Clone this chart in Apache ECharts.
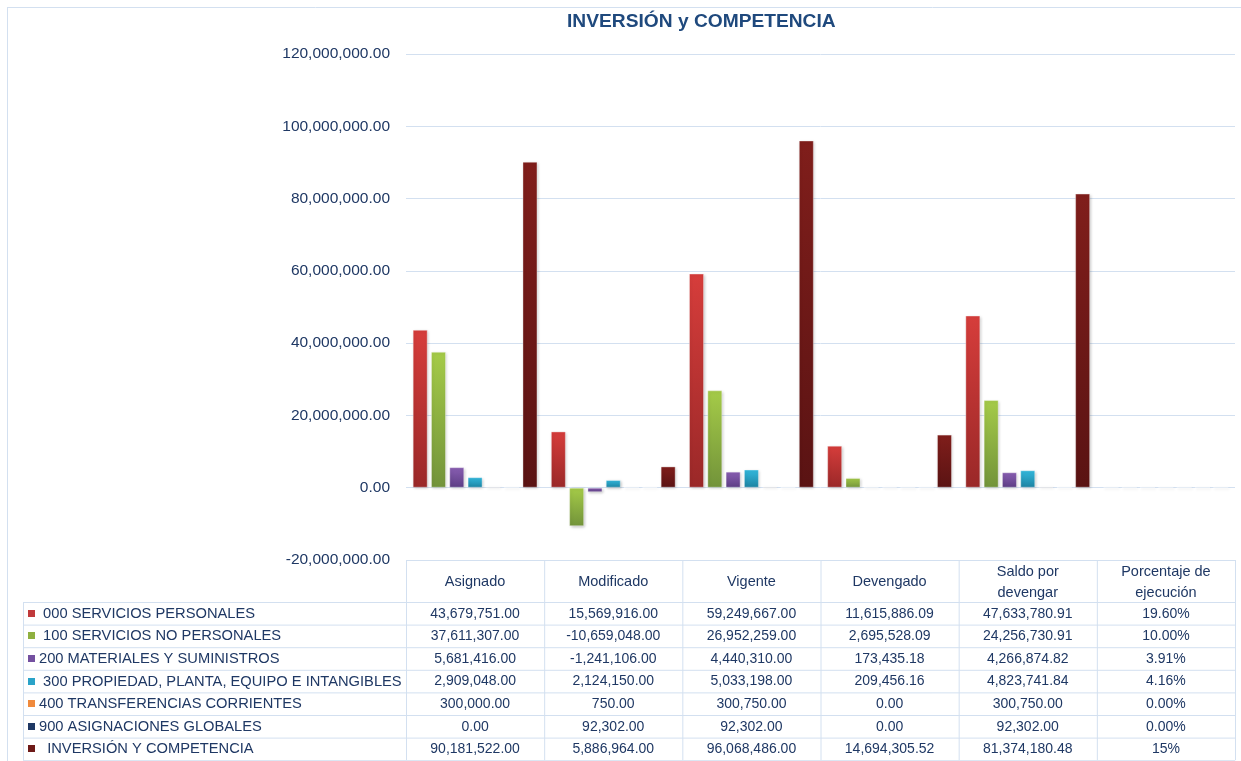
<!DOCTYPE html>
<html>
<head>
<meta charset="utf-8">
<title>INVERSIÓN y COMPETENCIA</title>
<script src="https://cdn.jsdelivr.net/npm/echarts@6/dist/echarts.min.js"></script>
<style>
  html, body { margin: 0; padding: 0; background: #fff; }
  #chart { width: 1241px; height: 761px; }
</style>
</head>
<body>
<div id="chart"></div>
<script>
const categories = ['Asignado', 'Modificado', 'Vigente', 'Devengado', 'Saldo por\ndevengar', 'Porcentaje de\nejecución']
const seriesNames = [
  ' 000 SERVICIOS PERSONALES',
  ' 100 SERVICIOS NO PERSONALES',
  '200 MATERIALES Y SUMINISTROS',
  ' 300 PROPIEDAD, PLANTA, EQUIPO E INTANGIBLES',
  '400 TRANSFERENCIAS CORRIENTES',
  '900 ASIGNACIONES GLOBALES',
  '  INVERSIÓN Y COMPETENCIA'
]
const serviciosPersonales = [43679751.00, 15569916.00, 59249667.00, 11615886.09, 47633780.91, 0.196]
const serviciosNoPersonales = [37611307.00, -10659048.00, 26952259.00, 2695528.09, 24256730.91, 0.10]
const materiales = [5681416.00, -1241106.00, 4440310.00, 173435.18, 4266874.82, 0.0391]
const propiedad = [2909048.00, 2124150.00, 5033198.00, 209456.16, 4823741.84, 0.0416]
const transferencias = [300000.00, 750.00, 300750.00, 0.00, 300750.00, 0.00]
const asignacionesGlobales = [0.00, 92302.00, 92302.00, 0.00, 92302.00, 0.00]
const inversionCompetencia = [90181522.00, 5886964.00, 96068486.00, 14694305.52, 81374180.48, 0.15]
const seriesData = [serviciosPersonales, serviciosNoPersonales, materiales, propiedad, transferencias, asignacionesGlobales, inversionCompetencia]
const pctDecimals = [2, 2, 2, 2, 2, 2, 0]
const yTicks = { min: -20000000, max: 120000000, interval: 20000000 }

// colores (claro arriba, oscuro abajo)
const colorsTop = ['#d63d3b', '#a5cb48', '#8a5fb3', '#33badf', '#f9a45e', '#28497a', '#801e1b']
const colorsBottom = ['#9a2828', '#72933a', '#5c3d84', '#1d82a1', '#e8843a', '#17325a', '#5a1313']
const keyColors = ['#c0393b', '#8fb040', '#7450a0', '#2aa3c8', '#f08a3c', '#1f3864', '#6e1a18']

const textColor = '#1f3864'
const lineColor = '#d3e0f0'
const font = '"Liberation Sans", Arial, sans-serif'
const gridLeft = 406, gridRight = 1235, gridTop = 54, tableTop = 560
const headerH = 42, rowH = 22.6, legendLeft = 23

const fmt = v => v.toLocaleString('en-US', { minimumFractionDigits: 2, maximumFractionDigits: 2 })

const chart = echarts.init(document.getElementById('chart'))

const colW = (gridRight - gridLeft) / categories.length
const graphics = []
const hLine = (x1, x2, y) => graphics.push({ type: 'line', silent: true, shape: { x1, y1: y + 0.5, x2, y2: y + 0.5 }, style: { stroke: lineColor, lineWidth: 1 } })
const vLine = (x, y1, y2) => graphics.push({ type: 'line', silent: true, shape: { x1: x + 0.5, y1, x2: x + 0.5, y2 }, style: { stroke: lineColor, lineWidth: 1 } })

// marco exterior
hLine(7, 1241, 7)
vLine(7, 7, 761)

// tabla de datos
hLine(gridLeft, gridRight, tableTop)
const bodyTop = tableTop + headerH
for (let r = 0; r <= seriesNames.length; r++) hLine(legendLeft, gridRight, bodyTop + r * rowH)
const tableBottom = bodyTop + seriesNames.length * rowH
vLine(legendLeft, bodyTop, tableBottom)
for (let c = 0; c <= categories.length; c++) vLine(gridLeft + c * colW, tableTop, tableBottom)

categories.forEach((cat, c) => {
  graphics.push({
    type: 'text', silent: true,
    style: {
      text: cat, x: gridLeft + (c + 0.5) * colW, y: tableTop + headerH / 2 + 1,
      align: 'center', verticalAlign: 'middle', lineHeight: 21,
      font: '14.5px ' + font, fill: textColor
    }
  })
})

seriesNames.forEach((name, s) => {
  const cy = bodyTop + (s + 0.5) * rowH + 0.5
  graphics.push({ type: 'rect', silent: true, shape: { x: 28, y: Math.round(cy) - 4, width: 7, height: 7 }, style: { fill: keyColors[s] } })
  graphics.push({
    type: 'text', silent: true,
    style: { text: name, x: 39, y: cy, align: 'left', verticalAlign: 'middle', font: '14.7px ' + font, fill: textColor }
  })
  seriesData[s].forEach((v, c) => {
    const label = c === categories.length - 1 ? (v * 100).toFixed(pctDecimals[s]) + '%' : fmt(v)
    graphics.push({
      type: 'text', silent: true,
      style: { text: label, x: gridLeft + (c + 0.5) * colW, y: cy, align: 'center', verticalAlign: 'middle', font: '14px ' + font, fill: textColor }
    })
  })
})

chart.setOption({
  animation: false,
  title: {
    text: 'INVERSIÓN y COMPETENCIA',
    left: 567, top: 12, padding: 0,
    textStyle: { color: '#1f497d', fontSize: 19.2, fontWeight: 'bold', fontFamily: font }
  },
  grid: { left: gridLeft, right: 1241 - gridRight, top: gridTop, bottom: 761 - tableTop },
  xAxis: {
    type: 'category',
    data: categories,
    axisLine: { show: false },
    axisTick: { show: false },
    axisLabel: { show: false }
  },
  yAxis: {
    type: 'value',
    min: yTicks.min, max: yTicks.max, interval: yTicks.interval,
    axisLine: { show: false },
    axisTick: { show: false },
    axisLabel: { color: textColor, fontSize: 15.5, margin: 16, fontFamily: font, formatter: v => fmt(v) },
    splitLine: { lineStyle: { color: lineColor, width: 1 } }
  },
  series: seriesNames.map((name, s) => ({
    name,
    type: 'bar',
    data: seriesData[s],
    barWidth: 15,
    barGap: '22%',
    itemStyle: {
      color: new echarts.graphic.LinearGradient(0, 0, 0, 1, [
        { offset: 0, color: colorsTop[s] },
        { offset: 1, color: colorsBottom[s] }
      ]),
      borderColor: 'rgba(255,255,255,0.35)',
      borderWidth: 1,
      shadowColor: 'rgba(0,0,0,0.25)',
      shadowBlur: 3,
      shadowOffsetX: 1,
      shadowOffsetY: 1
    }
  })),
  graphic: graphics
})
</script>
</body>
</html>
